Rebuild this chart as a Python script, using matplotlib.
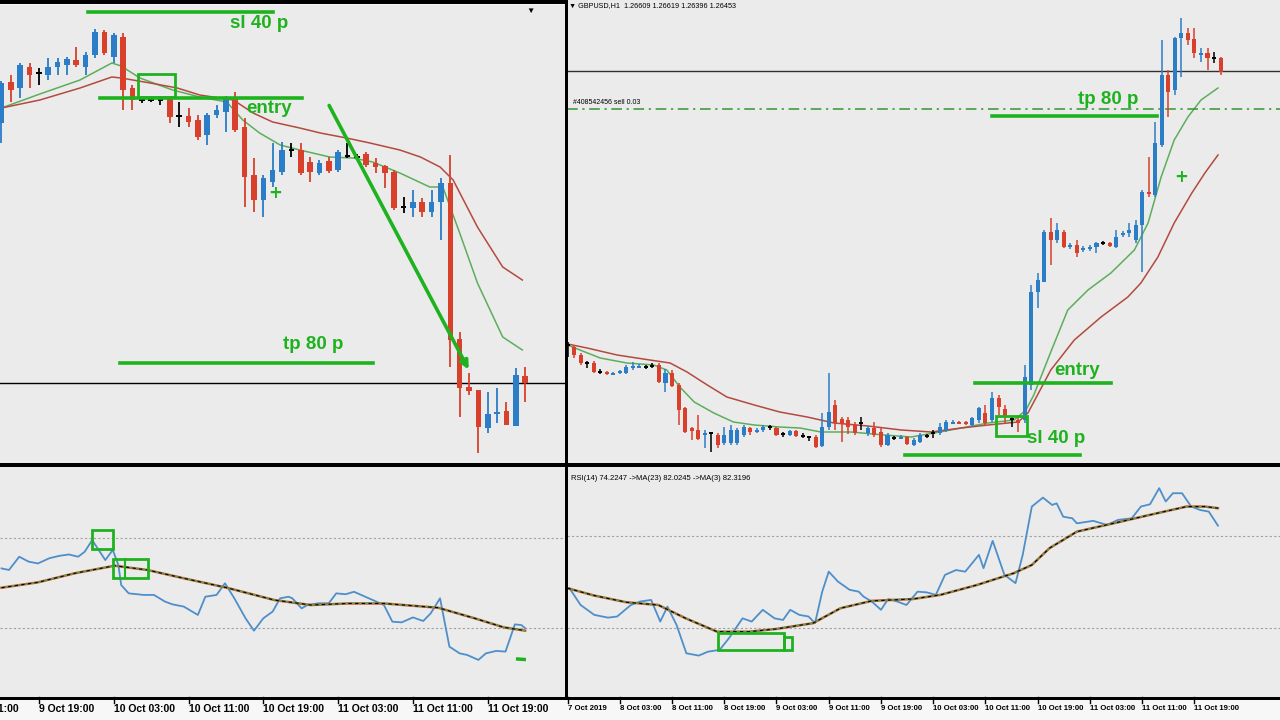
# recrea la captura de MT4: GBPUSD H1, dos graficos con velas + RSI debajo
import numpy as np
import matplotlib
matplotlib.use('Agg')
import matplotlib.pyplot as plt
from matplotlib.patches import Rectangle

# ---------------- datos grafico izquierdo (precio en puntos) ----------------
izq_open = [340, 381, 375, 396, 390, 388, 396, 398, 403, 396, 408, 431, 406, 426, 375, 363, 363, 363, 365, 347,
            347, 343, 328, 348, 351, 365, 336, 288, 263, 281, 291, 313, 313, 301, 290, 302, 293, 307, 306, 309,
            300, 297, 291, 256, 255, 261, 251, 261, 280, 124, 76, 73, 35, 49, 52, 37, 87]
izq_high = [382, 388, 400, 400, 395, 405, 405, 406, 416, 411, 434, 433, 430, 430, 378, 366, 365, 365, 366, 361,
            355, 348, 350, 358, 367, 371, 345, 305, 288, 320, 321, 320, 320, 306, 303, 306, 313, 320, 309, 311,
            305, 298, 293, 266, 273, 265, 273, 285, 308, 131, 90, 73, 71, 75, 61, 95, 96]
izq_low = [320, 361, 365, 375, 378, 383, 388, 388, 396, 388, 405, 408, 400, 353, 353, 360, 361, 358, 340, 336,
           336, 323, 318, 345, 331, 331, 256, 251, 246, 276, 288, 306, 288, 281, 288, 290, 291, 305, 303, 296,
           290, 275, 253, 250, 246, 246, 246, 223, 96, 46, 68, 10, 30, 40, 38, 37, 61]
izq_close = [380, 373, 398, 388, 390, 396, 401, 404, 398, 408, 431, 410, 428, 373, 363, 363, 363, 363, 346, 347,
             341, 326, 348, 353, 365, 333, 286, 263, 285, 293, 313, 313, 290, 291, 300, 292, 311, 307, 306, 298,
             296, 290, 255, 256, 261, 251, 261, 280, 123, 75, 72, 36, 49, 51, 38, 88, 80]

izq_ma_verde_x = [0, 4.1, 8.4, 11.8, 12.8, 14.8, 18.3, 21.2, 24.1, 25.8, 27.6, 29.8, 31.9, 35.1, 37.6, 39.7,
                  42.6, 45.8, 47.2, 49.0, 50.9, 53.6, 55.7]
izq_ma_verde_y = [355, 369, 383, 400, 397, 385, 373, 366, 361, 343, 330, 318, 313, 306, 305, 301,
                  290, 276, 276, 230, 180, 126, 113]
izq_ma_roja_x = [0, 4.1, 8.4, 11.8, 12.8, 15.9, 18.8, 21.2, 24.8, 26.9, 29.0, 31.9, 34.1, 36.9, 39.4,
                 42.6, 44.8, 46.9, 48.3, 50.9, 53.6, 55.7]
izq_ma_roja_y = [355, 363, 375, 386, 385, 380, 375, 368, 363, 350, 341, 335, 330, 325, 320,
                 313, 306, 296, 283, 236, 196, 183]

izq_rsi_x = [0, 0.8, 1.9, 2.9, 3.9, 5.1, 6.2, 7.2, 8.2, 8.9, 9.7, 11.1, 11.9, 12.5, 12.8, 13.6, 15.2, 16.3,
             17.5, 18.3, 19.5, 21.0, 21.8, 23.0, 23.9, 24.9, 26.1, 27.0, 28.0, 29.0, 29.8, 30.7, 31.1, 32.1,
             32.7, 33.9, 35.0, 35.8, 36.8, 37.7, 38.9, 40.1, 40.9, 41.8, 42.8, 44.0, 45.1, 45.9, 46.9, 47.9,
             49.0, 49.8, 51.0, 51.8, 52.9, 53.9, 54.9, 55.6, 56.0]
izq_rsi = [56.5, 55.8, 61.7, 59.5, 58.7, 61.0, 62.1, 62.7, 61.7, 63.9, 69.1, 60.2, 64.7, 58.0, 49.1, 45.4,
           44.7, 44.7, 41.7, 40.5, 39.5, 35.8, 43.9, 44.7, 49.9, 43.2, 34.3, 28.8, 34.3, 37.3, 43.2, 43.9,
           43.2, 38.7, 40.2, 41.0, 41.0, 45.4, 45.0, 46.1, 43.9, 41.7, 40.2, 32.8, 32.5, 34.7, 33.1, 36.5,
           43.2, 21.7, 18.7, 18.0, 15.8, 18.7, 19.8, 19.5, 31.6, 31.3, 29.9]
izq_rsi_ma_x = [0, 3.9, 7.8, 12.1, 15.6, 19.5, 24.1, 29.2, 33.1, 37.0, 40.9, 46.7, 50.6, 53.7, 56.0]
izq_rsi_ma = [47.9, 50.3, 54.3, 57.7, 55.8, 52.1, 47.9, 42.4, 40.2, 40.9, 40.9, 39.0, 34.3, 30.3, 28.8]

izq_ticks = [-4, 4, 12, 20, 28, 36, 44, 52]
izq_etiquetas = ['9 Oct 11:00', '9 Oct 19:00', '10 Oct 03:00', '10 Oct 11:00', '10 Oct 19:00',
                 '11 Oct 03:00', '11 Oct 11:00', '11 Oct 19:00']

# ---------------- datos grafico derecho ----------------
der_open = [118, 116, 108, 100, 100, 91, 91, 89, 90, 90, 95, 96, 96, 97, 98, 80, 90, 78, 55, 35,
            33, 28, 30, 28, 20, 20, 20, 28, 35, 32, 33, 36, 35, 29, 28, 32, 27, 26, 26, 17,
            36, 58, 44, 43, 38, 40, 30, 35, 31, 18, 25, 25, 26, 18, 21, 27, 30, 30, 33, 40,
            41, 41, 38, 43, 50, 43, 65, 54, 44, 43, 43, 78, 171, 181, 231, 223, 231, 216, 218, 213,
            214, 216, 220, 220, 216, 228, 230, 223, 238, 271, 268, 318, 388, 373, 425, 430, 424, 409, 410, 405,
            405]
der_high = [121, 118, 110, 102, 102, 94, 92, 91, 93, 98, 101, 99, 98, 100, 100, 94, 93, 80, 56, 36,
            48, 33, 31, 30, 36, 38, 35, 38, 36, 35, 38, 38, 36, 31, 33, 33, 30, 27, 28, 50,
            90, 63, 46, 46, 41, 46, 37, 41, 35, 30, 27, 28, 27, 25, 30, 29, 33, 40, 43, 43,
            42, 42, 46, 56, 58, 71, 68, 58, 46, 46, 98, 178, 190, 233, 245, 240, 233, 220, 223, 217,
            218, 221, 222, 221, 233, 232, 240, 243, 273, 306, 341, 423, 393, 426, 445, 435, 435, 415, 415, 411,
            406]
der_low = [106, 105, 98, 95, 90, 89, 88, 88, 89, 89, 93, 95, 94, 95, 80, 71, 76, 38, 30, 23,
           23, 15, 11, 15, 18, 18, 18, 26, 28, 30, 31, 33, 27, 26, 27, 26, 25, 22, 15, 16,
           33, 33, 21, 29, 28, 33, 27, 26, 16, 17, 23, 24, 18, 17, 20, 25, 25, 28, 31, 39,
           39, 38, 36, 40, 38, 41, 48, 40, 36, 31, 40, 73, 155, 181, 198, 220, 215, 214, 206, 211,
           212, 210, 218, 216, 215, 226, 226, 220, 191, 266, 266, 316, 346, 368, 386, 418, 405, 401, 393, 400,
           388]
der_close = [118, 108, 100, 100, 91, 91, 90, 90, 92, 96, 97, 97, 96, 97, 81, 90, 77, 53, 31, 32,
             24, 30, 30, 18, 28, 33, 33, 36, 31, 33, 36, 36, 28, 29, 32, 27, 27, 26, 16, 36,
             51, 40, 39, 36, 30, 40, 35, 28, 18, 28, 25, 26, 19, 23, 28, 27, 30, 36, 41, 41,
             40, 40, 45, 55, 40, 65, 56, 46, 44, 40, 86, 171, 183, 231, 223, 233, 216, 218, 210, 215,
             216, 220, 220, 217, 226, 230, 233, 238, 271, 270, 320, 388, 371, 425, 430, 423, 410, 410, 405, 405,
             391]

der_ma_verde_x = [0, 1.9, 5.0, 9.1, 13.2, 15.2, 17.2, 19.4, 22.4, 25.4, 28.6, 32.5, 35.6, 38.8, 43.4, 48.5,
                  52.6, 56.1, 60.3, 64.4, 68.4, 70.2, 71.4, 74.0, 76.6, 79.7, 83.2, 86.8, 88.9, 90.9, 92.9,
                  95.0, 97.0, 99.6]
der_ma_verde_y = [118, 113, 105, 100, 98, 93, 76, 61, 50, 41, 38, 36, 35, 31, 31, 28,
                  26, 30, 35, 40, 43, 53, 68, 111, 153, 173, 190, 213, 240, 286, 323,
                  346, 363, 375]
der_ma_roja_x = [0, 3.0, 7.6, 12.6, 15.7, 18.3, 21.4, 24.4, 28.6, 32.5, 36.7, 40.8, 46.0, 51.1, 55.7, 60.3,
                 64.4, 69.0, 70.5, 74.0, 77.6, 81.7, 85.8, 87.8, 90.4, 92.9, 95.6, 97.6, 99.6]
der_ma_roja_y = [119, 115, 108, 103, 100, 91, 78, 66, 58, 51, 46, 40, 37, 33, 31, 35,
                 38, 41, 50, 93, 123, 146, 166, 180, 206, 240, 270, 290, 308]

der_rsi_x = [0.3, 2.0, 4.1, 6.2, 7.6, 9.7, 11.1, 12.8, 14.2, 15.3, 16.7, 18.2, 20.1, 21.5, 23.3, 24.7, 26.8,
             28.2, 29.9, 31.7, 33.0, 34.1, 35.5, 36.9, 37.9, 39.0, 40.0, 41.4, 43.2, 44.6, 45.3, 46.6, 48.0,
             49.1, 50.5, 51.9, 53.6, 55.0, 56.4, 57.8, 59.5, 60.9, 63.0, 63.7, 65.1, 66.9, 68.6, 69.7, 71.1,
             72.8, 74.2, 74.9, 75.9, 77.3, 78.0, 80.5, 82.6, 84.3, 86.4, 87.8, 89.2, 90.6, 91.6, 92.7, 94.1,
             95.5, 96.9, 98.2, 99.6]
der_rsi = [47.3, 40.0, 35.7, 34.5, 35.0, 40.0, 41.5, 42.2, 32.8, 39.3, 31.3, 19.0, 18.0, 19.7, 20.5, 25.5, 34.2,
           32.8, 37.9, 34.2, 33.5, 37.9, 35.7, 35.0, 32.1, 45.8, 54.5, 50.2, 46.6, 45.8, 43.7, 41.5, 37.9,
           42.6, 41.5, 40.0, 45.8, 45.5, 44.4, 53.1, 55.2, 54.5, 61.8, 56.0, 67.9, 53.1, 49.5, 61.8, 82.8,
           86.7, 83.5, 84.2, 78.4, 77.7, 75.5, 76.6, 74.8, 77.0, 77.7, 82.8, 83.8, 90.8, 85.0, 88.6, 88.6,
           82.8, 81.3, 80.6, 74.5]
der_rsi_ma_x = [0, 4.1, 9.0, 13.9, 18.1, 22.9, 27.8, 32.0, 37.6, 41.8, 46.6, 52.9, 57.1, 62.7, 68.3, 71.1,
                73.8, 78.0, 83.6, 89.2, 94.8, 97.6, 99.6]
der_rsi_ma = [47.3, 44.1, 41.2, 40.0, 34.2, 28.4, 28.4, 29.6, 32.1, 38.6, 41.8, 42.6, 44.4, 48.7, 53.8, 57.4,
              64.7, 71.9, 75.5, 79.2, 82.8, 82.8, 82.1]

der_ticks = [0, 8, 16, 24, 32, 40, 48, 56, 64, 72, 80, 88, 96]
der_etiquetas = ['7 Oct 2019', '8 Oct 03:00', '8 Oct 11:00', '8 Oct 19:00', '9 Oct 03:00', '9 Oct 11:00',
                 '9 Oct 19:00', '10 Oct 03:00', '10 Oct 11:00', '10 Oct 19:00', '11 Oct 03:00',
                 '11 Oct 11:00', '11 Oct 19:00']

# ---------------- estilo ----------------
AZUL = '#2a7dc6'
ROJO = '#d8402c'
VERDE = '#1fb21f'
MA_VERDE = '#5cae5c'
MA_ROJA = '#b44a3e'
RSI_AZUL = '#4d8fca'
FONDO = '#ebebeb'
FUENTE = ['Liberation Sans', 'DejaVu Sans']

W, H = 1280, 720
fig = plt.figure(figsize=(12.8, 7.2), dpi=100, facecolor='#f7f7f7')


def caja(x0, y0, x1, y1):
    ax = fig.add_axes([x0 / W, 1 - y1 / H, (x1 - x0) / W, (y1 - y0) / H])
    ax.set_facecolor(FONDO)
    for s in ax.spines.values():
        s.set_visible(False)
    ax.set_xticks([])
    ax.set_yticks([])
    return ax


def barra(x0, y0, x1, y1, color='black'):
    fig.add_artist(Rectangle((x0 / W, 1 - y1 / H), (x1 - x0) / W, (y1 - y0) / H,
                             transform=fig.transFigure, color=color, lw=0, zorder=5))


def velas(ax, o, h, l, c, ancho, lw, alto_min):
    o, h, l, c = [np.asarray(v, dtype=float) for v in (o, h, l, c)]
    x = np.arange(len(o))
    col = np.where(c > o, AZUL, np.where(c < o, ROJO, 'black'))
    ax.vlines(x, l, h, colors=col, lw=lw, zorder=3)
    alto = np.maximum(np.abs(c - o), alto_min)
    base = np.minimum(o, c) - (alto - np.abs(c - o)) / 2
    ax.bar(x, alto, bottom=base, width=ancho, color=col, lw=0, zorder=4)


def texto_verde(ax, x, y, s, size=13.5):
    ax.text(x, y, s, color=VERDE, fontsize=size, fontweight='bold', family=FUENTE,
            ha='center', va='center', zorder=6)


def eje_tiempo(ax, ticks, etiquetas, size):
    for t, e in zip(ticks, etiquetas):
        ax.plot([t, t], [0, -0.025], transform=ax.get_xaxis_transform(), color='black',
                lw=1, clip_on=False, zorder=6)
        ax.text(t, -0.05, e, transform=ax.get_xaxis_transform(), ha='left', va='center',
                fontsize=size, fontweight='bold', family=FUENTE, clip_on=False)


# ---------------- panel izquierdo: precio ----------------
axL = caja(0, 5, 566, 463)
axL.set_xlim(-0.16, 60.37)
axL.set_ylim(0, 458)
axL.plot(izq_ma_verde_x, izq_ma_verde_y, color=MA_VERDE, lw=1.1, zorder=2)
axL.plot(izq_ma_roja_x, izq_ma_roja_y, color=MA_ROJA, lw=1.1, zorder=2)
velas(axL, izq_open, izq_high, izq_low, izq_close, 0.6, 1.3, 2.5)
axL.axhline(80, color='black', lw=1)
# dibujos del usuario
axL.plot([9.25, 29.0], [451, 451], color=VERDE, lw=2.6, zorder=5)
texto_verde(axL, 27.5, 440, 'sl 40 p')
axL.plot([10.5, 32.1], [365, 365], color=VERDE, lw=2.6, zorder=5)
texto_verde(axL, 28.6, 355, 'entry')
axL.add_patch(Rectangle((14.6, 366), 4.0, 23, fill=False, ec=VERDE, lw=2, zorder=5))
axL.annotate('', xy=(50.1, 91), xytext=(34.9, 360),
             arrowprops=dict(arrowstyle='-|>', color=VERDE, lw=2.6, mutation_scale=12), zorder=5)
axL.text(29.3, 270, '+', color=VERDE, fontsize=12, fontweight='bold', ha='center', va='center', zorder=6)
axL.plot([12.7, 39.7], [100, 100], color=VERDE, lw=2.6, zorder=5)
texto_verde(axL, 33.3, 119, 'tp 80 p')
axL.text(56.6, 452, '\u25bc', fontsize=6, ha='center', va='center', family=FUENTE)

# ---------------- panel izquierdo: RSI ----------------
axLr = caja(0, 467, 566, 697)
axLr.set_xlim(-0.16, 60.37)
axLr.set_ylim(-0.7, 101.6)
for nivel in (70, 30):
    axLr.axhline(nivel, color='#a0a0a0', lw=0.8, ls=(0, (2, 2)))
axLr.plot(izq_rsi_x, izq_rsi, color=RSI_AZUL, lw=1.3, zorder=3)
axLr.plot(izq_rsi_ma_x, izq_rsi_ma, color='#d25436', lw=1.8, zorder=3)
axLr.plot(izq_rsi_ma_x, izq_rsi_ma, color='#4aa84a', lw=0.9, zorder=3)
axLr.plot(izq_rsi_ma_x, izq_rsi_ma, color='black', lw=0.8, ls=(0, (3, 3)), zorder=3)
axLr.add_patch(Rectangle((9.7, 65.1), 2.2, 8.5, fill=False, ec=VERDE, lw=2, zorder=5))
axLr.add_patch(Rectangle((11.9, 52.2), 3.8, 8.5, fill=False, ec=VERDE, lw=2, zorder=5))
axLr.plot([13.2, 13.2], [52.2, 60.7], color=VERDE, lw=1.5, zorder=5)
axLr.plot([55.2, 55.9], [16.2, 16.0], color=VERDE, lw=2.5, zorder=5)
eje_tiempo(axLr, izq_ticks, izq_etiquetas, 7.5)

# ---------------- panel derecho: precio ----------------
axR = caja(567, 0, 1280, 463)
axR.set_xlim(-0.08, 109.1)
axR.set_ylim(0, 463)
axR.plot(der_ma_verde_x, der_ma_verde_y, color=MA_VERDE, lw=1.1, zorder=2)
axR.plot(der_ma_roja_x, der_ma_roja_y, color=MA_ROJA, lw=1.1, zorder=2)
velas(axR, der_open, der_high, der_low, der_close, 0.62, 1.1, 2.0)
axR.axhline(392, color='#303030', lw=1)
axR.axhline(354, color='#2e9a2e', lw=1.1, ls=(0, (7, 3, 1.5, 3)))
axR.text(0.84, 361, '#408542456 sell 0.03', fontsize=5, family=FUENTE, va='center', ha='left')
axR.text(0.003, 0.989, '\u25bc GBPUSD,H1  1.26609 1.26619 1.26396 1.26453', transform=axR.transAxes,
         fontsize=5.2, family=FUENTE, va='center', ha='left')
axR.plot([65.0, 90.2], [347, 347], color=VERDE, lw=2.6, zorder=5)
texto_verde(axR, 82.8, 363, 'tp 80 p')
axR.text(94.0, 286, '+', color=VERDE, fontsize=12, fontweight='bold', ha='center', va='center', zorder=6)
axR.plot([62.4, 83.2], [80, 80], color=VERDE, lw=2.6, zorder=5)
texto_verde(axR, 78.0, 93, 'entry')
axR.plot([51.7, 78.5], [8, 8], color=VERDE, lw=2.6, zorder=5)
texto_verde(axR, 74.8, 25, 'sl 40 p')
axR.add_patch(Rectangle((65.6, 27), 4.8, 20, fill=False, ec=VERDE, lw=2, zorder=5))

# ---------------- panel derecho: RSI ----------------
axRr = caja(567, 467, 1280, 697)
axRr.set_xlim(-0.08, 109.1)
axRr.set_ylim(0, 100)
for nivel in (70, 30):
    axRr.axhline(nivel, color='#a0a0a0', lw=0.8, ls=(0, (2, 2)))
axRr.plot(der_rsi_x, der_rsi, color=RSI_AZUL, lw=1.3, zorder=3)
axRr.plot(der_rsi_ma_x, der_rsi_ma, color='#d25436', lw=1.8, zorder=3)
axRr.plot(der_rsi_ma_x, der_rsi_ma, color='#4aa84a', lw=0.9, zorder=3)
axRr.plot(der_rsi_ma_x, der_rsi_ma, color='black', lw=0.8, ls=(0, (3, 3)), zorder=3)
axRr.add_patch(Rectangle((23.0, 20.4), 10.1, 7.4, fill=False, ec=VERDE, lw=2, zorder=5))
axRr.add_patch(Rectangle((33.1, 20.4), 1.3, 5.7, fill=False, ec=VERDE, lw=2, zorder=5))
axRr.text(0.006, 0.95, 'RSI(14) 74.2247 ->MA(23) 82.0245 ->MA(3) 82.3196', transform=axRr.transAxes,
          fontsize=5.5, family=FUENTE, va='center', ha='left')
eje_tiempo(axRr, der_ticks, der_etiquetas, 5.6)

# bordes negros de la ventana
barra(0, 0, 566, 4)
barra(0, 463, 1280, 467)
barra(565, 0, 568, 700)
barra(0, 697, 1280, 700)

fig.savefig('out.png', dpi=100, facecolor=fig.get_facecolor())
